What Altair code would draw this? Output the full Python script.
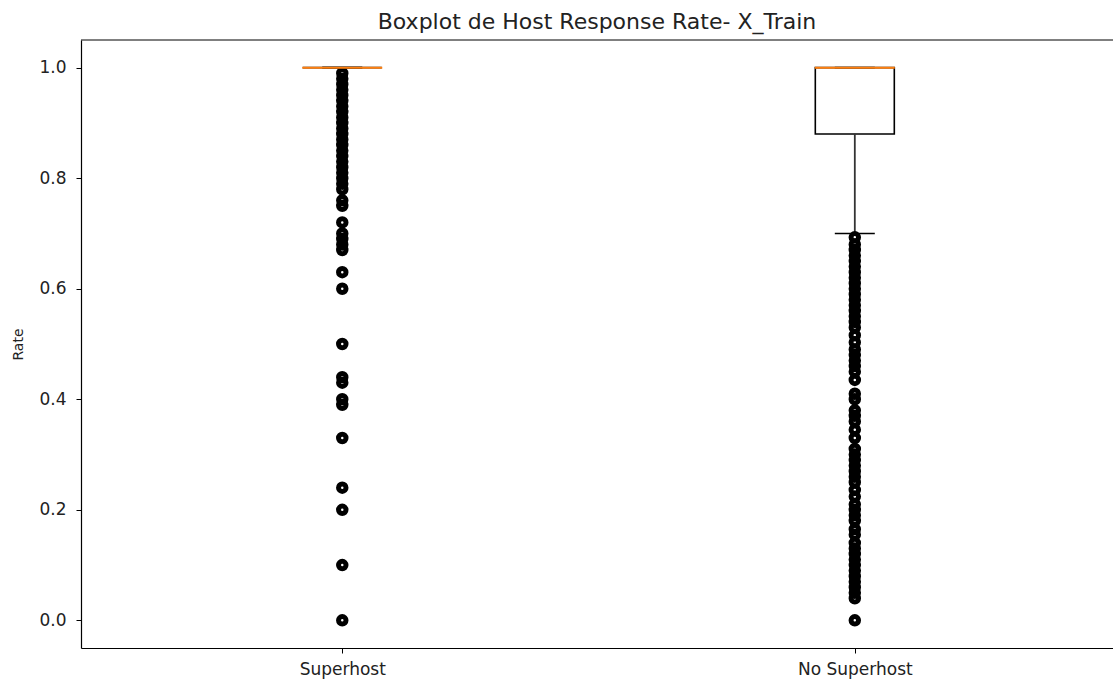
import altair as alt
import pandas as pd

# ---- data ----
categories = ["Superhost", "No Superhost"]
positions = [1, 2]
q1 = [1.0, 0.88]
median = [1.0, 1.0]
q3 = [1.0, 1.0]
whisker_low = [1.0, 0.70]
whisker_high = [1.0, 1.0]

superhost_outliers = [
    0.0, 0.10, 0.20, 0.24, 0.33, 0.39, 0.40, 0.43, 0.44, 0.50, 0.60, 0.63,
    0.67, 0.68, 0.69, 0.70, 0.72, 0.75, 0.76, 0.78, 0.79, 0.80, 0.81, 0.82,
    0.83, 0.84, 0.85, 0.86, 0.87, 0.88, 0.89, 0.90, 0.91, 0.92, 0.93, 0.94,
    0.95, 0.96, 0.97, 0.98, 0.99,
]
no_superhost_outliers = [
    0.0, 0.04, 0.05, 0.06, 0.07, 0.08, 0.09, 0.10, 0.11, 0.12, 0.13, 0.14,
    0.155, 0.165, 0.18, 0.19, 0.20, 0.21, 0.224, 0.236, 0.25, 0.26, 0.27,
    0.28, 0.29, 0.30, 0.31, 0.33, 0.345, 0.36, 0.37, 0.38, 0.40, 0.41,
    0.435, 0.45, 0.46, 0.47, 0.48, 0.49, 0.503, 0.516, 0.53, 0.54, 0.55,
    0.56, 0.57, 0.58, 0.59, 0.60, 0.61, 0.62, 0.63, 0.64, 0.65, 0.66, 0.67,
    0.68, 0.693,
]

W, H = 1032, 608

box_df = pd.DataFrame({
    "pos": positions, "cat": categories, "q1": q1, "q3": q3,
    "med": median, "wlo": whisker_low, "whi": whisker_high,
})
out_df = pd.DataFrame({
    "pos": [positions[0]] * len(superhost_outliers) + [positions[1]] * len(no_superhost_outliers),
    "value": superhost_outliers + no_superhost_outliers,
})

label_expr = " : ".join(
    f"datum.value == {p} ? '{c}'" for p, c in zip(positions, categories)
) + " : ''"

xscale = alt.Scale(domain=[0.5, 2.494], nice=False, zero=False)
yscale = alt.Scale(domain=[-0.05, 1.05], nice=False, zero=False)

xaxis = alt.Axis(values=positions, labelExpr=label_expr, title=None, grid=False,
                 labelFontSize=17, labelPadding=8, tickSize=5)
yaxis = alt.Axis(values=[0, 0.2, 0.4, 0.6, 0.8, 1.0], format=".1f", title="Rate",
                 grid=False, labelFontSize=17, labelPadding=10, tickSize=5,
                 titleFontSize=14, titleFontWeight="normal", titlePadding=13)

base = alt.Chart(box_df)

box = base.mark_bar(size=79, fill="white", stroke="black", strokeWidth=1.6).encode(
    x=alt.X("pos:Q", scale=xscale, axis=xaxis),
    y=alt.Y("q1:Q", scale=yscale, axis=yaxis),
    y2="q3:Q",
)
whisk_lo = base.mark_rule(color="#333", strokeWidth=1.8).encode(
    x=alt.X("pos:Q", scale=xscale), y=alt.Y("wlo:Q", scale=yscale), y2="q1:Q")
whisk_hi = base.mark_rule(color="#333", strokeWidth=1.8).encode(
    x=alt.X("pos:Q", scale=xscale), y=alt.Y("q3:Q", scale=yscale), y2="whi:Q")
cap_lo = base.mark_tick(orient="horizontal", size=40, thickness=1.6, color="black",
                        opacity=1).encode(
    x=alt.X("pos:Q", scale=xscale), y=alt.Y("wlo:Q", scale=yscale))
cap_hi = base.mark_tick(orient="horizontal", size=40, thickness=1.6, color="black",
                        opacity=1).encode(
    x=alt.X("pos:Q", scale=xscale), y=alt.Y("whi:Q", scale=yscale))
med = base.mark_tick(orient="horizontal", size=80, thickness=2, color="#ff7f0e",
                     opacity=1).encode(
    x=alt.X("pos:Q", scale=xscale), y=alt.Y("med:Q", scale=yscale))

pts = alt.Chart(out_df).mark_point(shape="circle", filled=False, color="black",
                                   size=56, strokeWidth=5, opacity=1).encode(
    x=alt.X("pos:Q", scale=xscale), y=alt.Y("value:Q", scale=yscale))

top_border = alt.Chart(pd.DataFrame({"a": [0]})).mark_rule(color="black", strokeWidth=1).encode(
    x=alt.value(0), x2=alt.value(W), y=alt.value(0))

chart = alt.layer(box, whisk_lo, whisk_hi, cap_lo, cap_hi, pts, med, top_border).properties(
    width=W, height=H,
    title=alt.TitleParams("Boxplot de Host Response Rate- X_Train", fontSize=22,
                          fontWeight="normal", font="DejaVu Sans", color="#222", offset=6),
    autosize=alt.AutoSizeParams(type="none"),
    padding={"left": 81, "top": 40, "right": 0, "bottom": 38},
).configure_view(stroke=None).configure_axis(
    domainColor="black", domainWidth=1.2, tickColor="black", labelColor="#222",
    titleColor="#222", labelFont="DejaVu Sans", titleFont="DejaVu Sans",
)

chart.save("out.html", embed_options={"renderer": "svg", "actions": False})
